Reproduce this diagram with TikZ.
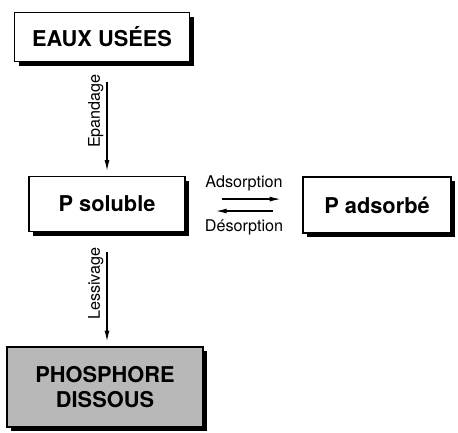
\documentclass[tikz,border=0pt]{standalone}
\usepackage{fontspec}
\setmainfont{TeX Gyre Heros}
\usetikzlibrary{arrows.meta,shadows}

\begin{document}
\begin{tikzpicture}[x=0.025cm,y=-0.025cm,line width=1pt,
    -{Latex[length=8pt,width=3.5pt]}]
  \tikzstyle{box}=[draw,line width=1.3pt,fill=white,
    font=\fontsize{15.5}{18}\selectfont\bfseries,
    drop shadow={shadow xshift=3pt,shadow yshift=-3pt,opacity=1,fill=black}]
  \tikzstyle{lbl}=[font=\fontsize{11.5}{13}\selectfont,inner sep=2pt]
  \useasboundingbox (0,0) rectangle (458,432);
  \node[box,minimum width=175*0.025cm,minimum height=49*0.025cm] (eaux) at (102,37) {EAUX USÉES};
  \node[box,minimum width=156*0.025cm,minimum height=55*0.025cm] (soluble) at (107,204) {P soluble};
  \node[box,minimum width=148*0.025cm,minimum height=56*0.025cm] (adsorbe) at (377,205) {P adsorbé};
  \node[box,fill=black!28,align=center,minimum width=196*0.025cm,minimum height=80*0.025cm] (phos) at (105,387) {PHOSPHORE\\DISSOUS};
  % epandage / lessivage
  \draw[shorten <=14pt,shorten >=3pt] (eaux.south -| soluble.north) -- (soluble.north)
    node[lbl,pos=0.43,anchor=south,rotate=90] {Epandage};
  \draw[shorten <=14pt,shorten >=3pt] (soluble.south) -- (phos.north -| soluble.south)
    node[lbl,pos=0.45,anchor=south,rotate=90] {Lessivage};
  % adsorption / desorption
  \draw[shorten <=26pt,shorten >=15pt] ([yshift=3.5pt]soluble.east) -- ([yshift=3.5pt]soluble.east -| adsorbe.west)
    node[lbl,midway,above=3pt] {Adsorption};
  \draw[shorten <=21pt,shorten >=21pt] ([yshift=-5pt]soluble.east -| adsorbe.west) -- ([yshift=-5pt]soluble.east)
    node[lbl,midway,below=4pt] {Désorption};
\end{tikzpicture}
\end{document}
